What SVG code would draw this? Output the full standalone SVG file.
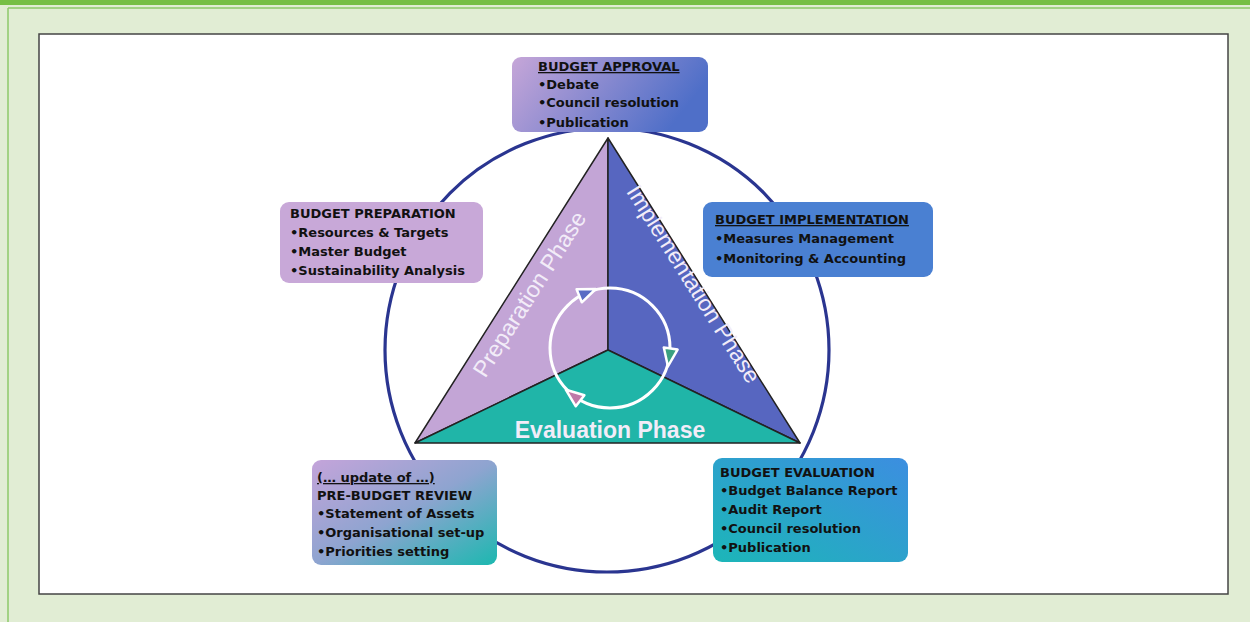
<svg xmlns="http://www.w3.org/2000/svg" width="1250" height="622" viewBox="0 0 1250 622">
<defs>
<style>
.t{font-family:"DejaVu Sans","Liberation Sans",Arial,sans-serif;font-weight:bold;font-size:13px;fill:#111;}
.u{text-decoration:underline;}
.ph{font-family:"Liberation Sans",Arial,sans-serif;font-size:23px;fill:#f2ecf8;}
.box{stroke:none;}
.tri{stroke:#222;stroke-width:1.5;stroke-linejoin:round;}
.ah{stroke:#fff;stroke-width:2.5;stroke-linejoin:round;}
</style>
<linearGradient id="gA" x1="0" y1="0" x2="1" y2="0.3">
<stop offset="0" stop-color="#c6a6d8"/><stop offset="1" stop-color="#4f6fc8"/>
</linearGradient>
<linearGradient id="gR" x1="0" y1="0" x2="1" y2="1">
<stop offset="0" stop-color="#c4a4da"/><stop offset="0.5" stop-color="#8ea4d0"/><stop offset="1" stop-color="#1cb8b0"/>
</linearGradient>
<linearGradient id="gE" x1="0" y1="1" x2="1" y2="0">
<stop offset="0" stop-color="#1cb6b8"/><stop offset="1" stop-color="#3c8ee0"/>
</linearGradient>
</defs>
<rect x="0" y="0" width="1250" height="622" fill="#e1edd4"/>
<rect x="0" y="0" width="1250" height="5" fill="#76bf45"/>
<line x1="8" y1="8" x2="1250" y2="8" stroke="#8cc86a" stroke-width="1.5"/>
<line x1="8" y1="8" x2="8" y2="622" stroke="#8cc86a" stroke-width="1.5"/>
<rect x="39" y="34" width="1189" height="560" fill="#fff" stroke="#444" stroke-width="1.5"/>

<g id="connectors">
<circle cx="607" cy="350" r="222" fill="none" stroke="#2a3590" stroke-width="3.2"/>
</g>

<g id="triangle">
<polygon class="tri" points="608,138 608,350 415,443" fill="#c3a5d6"/>
<polygon class="tri" points="608,138 800,443 608,350" fill="#5766c0"/>
<polygon class="tri" points="415,443 608,350 800,443" fill="#20b5a8"/>
<text class="ph" transform="translate(531,295) rotate(-57.7)" text-anchor="middle" dominant-baseline="middle">Preparation Phase</text>
<text class="ph" transform="translate(692,285) rotate(57.7)" text-anchor="middle" dominant-baseline="middle" font-size="24">Implementation Phase</text>
<text class="ph" x="610" y="438" text-anchor="middle" font-weight="bold" font-size="21" fill="#cdeee9">Evaluation Phase</text>
</g>

<g id="cycle">
<circle cx="610" cy="348" r="60" fill="none" stroke="#fff" stroke-width="3"/>
<polygon class="ah" points="595.8,289 576.6,289.3 581.8,302.3" fill="#5a6cc4"/>
<polygon class="ah" points="667.9,366.3 677.6,349.6 663.8,347.4" fill="#3aa080"/>
<polygon class="ah" points="565.9,389.8 575.8,406.3 584.4,395.3" fill="#c07aa8"/>
</g>

<g id="approval">
<rect class="box" x="512" y="57" width="196" height="75" rx="9" fill="url(#gA)"/>
<text class="t u" x="538" y="71">BUDGET APPROVAL</text>
<text class="t" x="538" y="89">•Debate</text>
<text class="t" x="538" y="107">•Council resolution</text>
<text class="t" x="538" y="127">•Publication</text>
</g>

<g id="preparation">
<rect class="box" x="280" y="202" width="203" height="81" rx="9" fill="#c8a8d8"/>
<text class="t" x="290" y="218">BUDGET PREPARATION</text>
<text class="t" x="290" y="237">•Resources &amp; Targets</text>
<text class="t" x="290" y="256">•Master Budget</text>
<text class="t" x="290" y="275">•Sustainability Analysis</text>
</g>

<g id="implementation">
<rect class="box" x="703" y="202" width="230" height="75" rx="9" fill="#4a80d2"/>
<text class="t u" x="715" y="224">BUDGET IMPLEMENTATION</text>
<text class="t" x="715" y="243">•Measures Management</text>
<text class="t" x="715" y="263">•Monitoring &amp; Accounting</text>
</g>

<g id="review">
<rect class="box" x="312" y="460" width="185" height="105" rx="9" fill="url(#gR)"/>
<text class="t u" x="317" y="482">(… update of …)</text>
<text class="t" x="317" y="500">PRE-BUDGET REVIEW</text>
<text class="t" x="317" y="518">•Statement of Assets</text>
<text class="t" x="317" y="537">•Organisational set-up</text>
<text class="t" x="317" y="556">•Priorities setting</text>
</g>

<g id="evaluation">
<rect class="box" x="713" y="458" width="195" height="104" rx="9" fill="url(#gE)"/>
<text class="t" x="720" y="477">BUDGET EVALUATION</text>
<text class="t" x="720" y="495">•Budget Balance Report</text>
<text class="t" x="720" y="514">•Audit Report</text>
<text class="t" x="720" y="533">•Council resolution</text>
<text class="t" x="720" y="552">•Publication</text>
</g>
</svg>
